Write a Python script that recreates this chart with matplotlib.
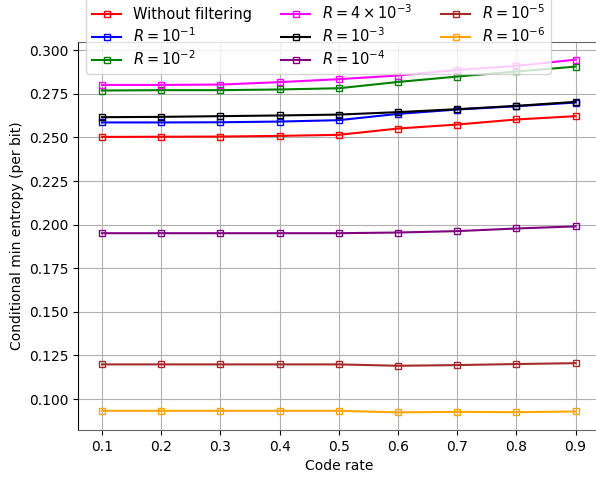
import numpy as np
import matplotlib
matplotlib.use("Agg")
import matplotlib.pyplot as plt

code_rate = [0.1, 0.2, 0.3, 0.4, 0.5, 0.6, 0.7, 0.8, 0.9]

no_filter = [0.2503, 0.2504, 0.2505, 0.2509, 0.2515, 0.2551, 0.2574, 0.2603, 0.2622]
r_1e1 = [0.2586, 0.2586, 0.2587, 0.2591, 0.2599, 0.2635, 0.2660, 0.2679, 0.2700]
r_1e2 = [0.2769, 0.2771, 0.2771, 0.2775, 0.2782, 0.2818, 0.2849, 0.2878, 0.2906]
r_4e3 = [0.2801, 0.2801, 0.2803, 0.2817, 0.2834, 0.2855, 0.2887, 0.2910, 0.2946]
r_1e3 = [0.2616, 0.2618, 0.2622, 0.2626, 0.2631, 0.2645, 0.2662, 0.2681, 0.2704]
r_1e4 = [0.1951, 0.1951, 0.1951, 0.1951, 0.1951, 0.1955, 0.1963, 0.1978, 0.1990]
r_1e5 = [0.1199, 0.1199, 0.1199, 0.1199, 0.1199, 0.1191, 0.1195, 0.1201, 0.1206]
r_1e6 = [0.0933, 0.0933, 0.0933, 0.0933, 0.0933, 0.0924, 0.0927, 0.0925, 0.0929]

series = [
    ("Without filtering", no_filter, "red"),
    (r"$R = 10^{-1}$", r_1e1, "blue"),
    (r"$R = 10^{-2}$", r_1e2, "green"),
    (r"$R = 4 \times 10^{-3}$", r_4e3, "magenta"),
    (r"$R = 10^{-3}$", r_1e3, "black"),
    (r"$R = 10^{-4}$", r_1e4, "purple"),
    (r"$R = 10^{-5}$", r_1e5, "brown"),
    (r"$R = 10^{-6}$", r_1e6, "orange"),
]

fig = plt.figure(figsize=(5.96, 4.78), dpi=100)
ax = fig.add_axes([78.3 / 596, 48 / 478, 521 / 596, 388 / 478])

for label, vals, color in series:
    ax.plot(code_rate, vals, color=color, marker='s', markerfacecolor='none',
            markersize=4.5, linewidth=1.5, label=label)

ax.grid(True, color='#b0b0b0', linewidth=0.8)
ax.set_xticks(code_rate)
ax.set_xlabel('Code rate')
ax.set_ylabel('Conditional min entropy (per bit)')
ax.yaxis.set_major_formatter(matplotlib.ticker.FormatStrFormatter('%.3f'))

ax.spines['bottom'].set_color('#666666')
ax.spines['top'].set_color('#666666')

ax.legend(ncol=3, loc='lower left', bbox_to_anchor=(0.015, 0.918), borderaxespad=0,
          fontsize=10.5, labelspacing=0.3)

fig.savefig('out.png', dpi=100)
